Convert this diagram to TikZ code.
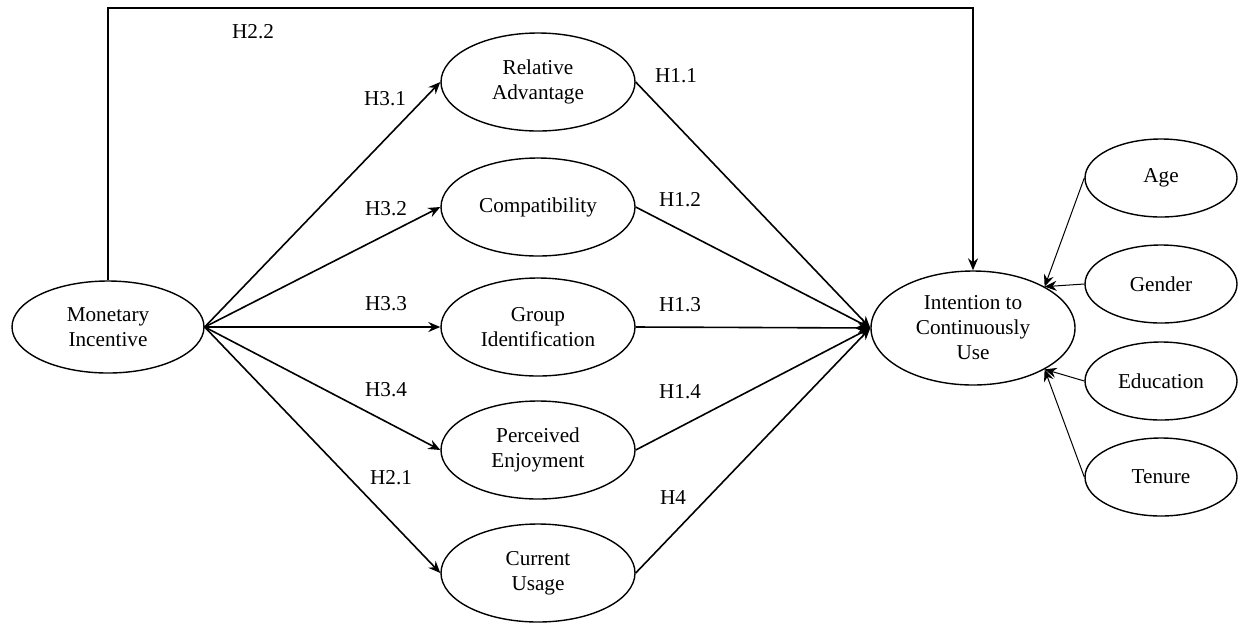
\documentclass[tikz,border=0pt]{standalone}
\usepackage{fontspec}
\setmainfont{Liberation Serif}
\usetikzlibrary{shapes.geometric,arrows.meta}
\begin{document}
\begin{tikzpicture}[x=0.5pt,y=-0.5pt,
  every node/.style={font=\fontsize{10.6pt}{12.5pt}\selectfont},
  oval/.style={ellipse,draw,line width=0.7pt,inner sep=0pt,align=center},
  midoval/.style={oval,minimum width=97pt,minimum height=49pt},
  sideoval/.style={oval,minimum width=76pt,minimum height=39pt},
  link/.style={line width=0.8pt,-{Stealth[length=6pt,width=5pt,inset=2pt]}},
  thin link/.style={line width=0.5pt,-{Stealth[length=6pt,width=5pt,inset=2pt]}},
  lbl/.style={inner sep=0pt}]
\useasboundingbox (0,0) rectangle (1238,623);
\node[oval,minimum width=96pt,minimum height=46pt] (M) at (108,327) {Monetary\\Incentive};
\node[midoval] (RA) at (538,82) {Relative\\Advantage};
\node[midoval] (CO) at (538,207) {Compatibility};
\node[midoval] (GI) at (538,327) {Group\\Identification};
\node[midoval] (PE) at (538,450) {Perceived\\Enjoyment};
\node[midoval] (CU) at (538,573) {Current\\Usage};
\node[oval,minimum width=102pt,minimum height=57pt] (I) at (973,328) {Intention to\\Continuously\\Use};
\node[sideoval] (AG) at (1161,178) {Age};
\node[sideoval] (GE) at (1161,284) {Gender};
\node[sideoval] (ED) at (1161,381) {Education};
\node[sideoval] (TE) at (1161,477) {Tenure};
\coordinate (TL) at (108,8);
\coordinate (TR) at (973,8);
\draw[link] (M.north) -- (TL) -- (TR) -- (I.north);
\foreach \n in {RA,CO,GI,PE,CU}{
  \draw[link] (M.east) -- (\n.west);
  \draw[link] (\n.east) -- (I.west);
}
\draw[thin link] (AG.west) -- (I.30);
\draw[thin link] (GE.west) -- (I.30);
\draw[thin link] (ED.west) -- (I.-30);
\draw[thin link] (TE.west) -- (I.-30);
\node[lbl] (h22) at (253,32) {H2.2};
\node[lbl] (h31) at (385,99) {H3.1};
\node[lbl] (h32) at (386,209) {H3.2};
\node[lbl] (h33) at (386,304) {H3.3};
\node[lbl] (h34) at (386,390) {H3.4};
\node[lbl] (h21) at (391,478) {H2.1};
\node[lbl] (h11) at (676,76) {H1.1};
\node[lbl] (h12) at (680,200) {H1.2};
\node[lbl] (h13) at (680,305) {H1.3};
\node[lbl] (h14) at (680,392) {H1.4};
\node[lbl] (h4) at (673,498) {H4};
\end{tikzpicture}
\end{document}
